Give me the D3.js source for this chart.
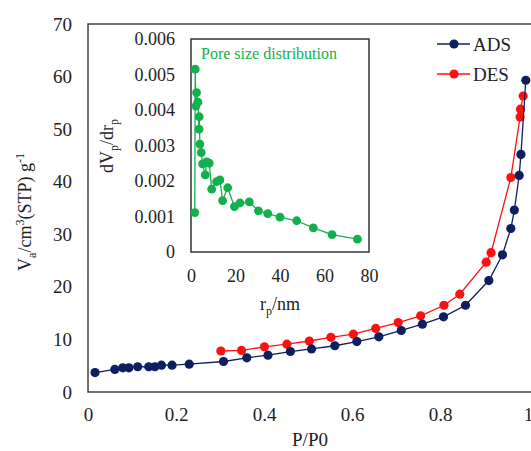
<!DOCTYPE html>
<html>
<head>
  <meta charset="utf-8">
  <script src="https://cdnjs.cloudflare.com/ajax/libs/d3/7.8.5/d3.min.js"></script>
  <title>Isotherm</title>
  <style>
    body { margin: 0; background: #fff; }
  </style>
</head>
<body>
<script>
// adsorption branch (P/P0, volume)
const adsX = [0.016,0.061,0.079,0.093,0.113,0.138,0.152,0.167,0.191,0.230,0.308,0.361,0.409,0.460,0.508,0.561,0.611,0.661,0.712,0.760,0.808,0.858,0.911,0.942,0.961,0.969,0.980,0.984,0.995];
const adsY = [3.7,4.3,4.6,4.6,4.8,4.8,4.8,5.1,5.1,5.3,5.8,6.5,7.0,7.7,8.2,8.8,9.6,10.5,11.7,12.9,14.3,16.5,21.2,26.1,31.1,34.6,41.2,45.2,59.3];
// desorption branch
const desX = [0.302,0.349,0.401,0.452,0.503,0.552,0.603,0.654,0.705,0.756,0.809,0.845,0.905,0.916,0.961,0.982,0.983,0.989];
const desY = [7.8,7.9,8.6,9.1,9.7,10.4,11.0,12.1,13.2,14.5,16.5,18.6,24.7,26.5,40.8,52.3,53.8,56.3];
// pore size distribution (r_p nm, dVp/drp)
const poreR = [1.7,1.9,2.2,2.5,3.1,3.6,3.7,4.0,4.6,5.2,6.4,7.0,8.2,9.3,11.5,13.0,14.2,16.5,19.5,22.0,26.2,30.3,34.5,40.0,47.5,55.0,63.4,74.8];
const poreV = [0.00111,0.00515,0.00411,0.00449,0.00422,0.00346,0.00381,0.00304,0.00280,0.00248,0.00217,0.00254,0.00250,0.00177,0.00198,0.00203,0.00145,0.00181,0.00128,0.00138,0.00141,0.00116,0.00108,0.00098,0.00088,0.00068,0.00049,0.00036];

const mainXTicks = [0, 0.2, 0.4, 0.6, 0.8, 1];
const mainYTicks = [0, 10, 20, 30, 40, 50, 60, 70];
const insetXTicks = [0, 20, 40, 60, 80];
const insetYTicks = [0, 0.001, 0.002, 0.003, 0.004, 0.005, 0.006];

const navy = "#0d1f5e", red = "#ff1010", green = "#12b04c";
const serif = "'Liberation Serif', 'DejaVu Serif', serif";

const svg = d3.select("body").append("svg")
    .attr("width", 531)
    .attr("height", 451);

// main plot
const x = d3.scaleLinear().domain([0, 1]).range([88, 528]);
const y = d3.scaleLinear().domain([0, 70]).range([392, 24]);

svg.append("path")
    .attr("d", "M560,24H88V392H560")
    .attr("fill", "none")
    .attr("stroke", "#444")
    .attr("stroke-width", 1.5);

const xAxis = svg.append("g")
    .attr("transform", "translate(0,392)")
    .call(d3.axisBottom(x).tickValues(mainXTicks).tickSize(0).tickPadding(16).tickFormat(d3.format("")));
const yAxis = svg.append("g")
    .attr("transform", "translate(88,0)")
    .call(d3.axisLeft(y).tickValues(mainYTicks).tickSize(0).tickPadding(16));
[xAxis, yAxis].forEach(g => {
  g.select(".domain").remove();
  g.selectAll("text").style("font-size", "19px");
});

const line = d3.line().x(d => x(d[0])).y(d => y(d[1]));
const ads = adsX.map((v, i) => [v, adsY[i]]);
const des = desX.map((v, i) => [v, desY[i]]);

[[des, red], [ads, navy]].forEach(([pts, c]) => {
  svg.append("path").datum(pts)
      .attr("d", line)
      .attr("fill", "none")
      .attr("stroke", c)
      .attr("stroke-width", 1.3);
  svg.append("g").selectAll("circle")
      .data(pts).enter().append("circle")
      .attr("cx", d => x(d[0]))
      .attr("cy", d => y(d[1]))
      .attr("r", 4.6)
      .attr("fill", c);
});

// axis titles
const yl = svg.append("text")
    .attr("transform", "translate(31,212) rotate(-90)")
    .attr("text-anchor", "middle")
    .style("font-size", "18px");
yl.append("tspan").text("V");
yl.append("tspan").attr("dy", 5).style("font-size", "12px").text("a");
yl.append("tspan").attr("dy", -5).text("/cm");
yl.append("tspan").attr("dy", -7).style("font-size", "12px").text("3");
yl.append("tspan").attr("dy", 7).text("(STP) g");
yl.append("tspan").attr("dy", -7).style("font-size", "12px").text("-1");

svg.append("text")
    .attr("x", 310).attr("y", 446)
    .attr("text-anchor", "middle")
    .style("font-size", "19px")
    .text("P/P0");

// legend
[["ADS", navy, 44], ["DES", red, 74]].forEach(([name, c, ly]) => {
  svg.append("line").attr("x1", 437).attr("x2", 470).attr("y1", ly).attr("y2", ly)
      .attr("stroke", c).attr("stroke-width", 1.3);
  svg.append("circle").attr("cx", 454).attr("cy", ly).attr("r", 4.6).attr("fill", c);
  svg.append("text").attr("x", 473).attr("y", ly + 7)
      .style("font-size", "19px").text(name);
});

// inset: pore size distribution
const ix = d3.scaleLinear().domain([0, 80]).range([191, 369]);
const iy = d3.scaleLinear().domain([0, 0.006]).range([252, 39]);

svg.append("rect")
    .attr("x", 191).attr("y", 39)
    .attr("width", 178).attr("height", 213)
    .attr("fill", "#fff")
    .attr("stroke", "#333")
    .attr("stroke-width", 1.5);

const ixAxis = svg.append("g")
    .attr("transform", "translate(0,252)")
    .call(d3.axisBottom(ix).tickValues(insetXTicks).tickSize(0).tickPadding(17));
const iyAxis = svg.append("g")
    .attr("transform", "translate(191,0)")
    .call(d3.axisLeft(iy).tickValues(insetYTicks).tickSize(0).tickPadding(16)
      .tickFormat(d => d === 0 ? "0" : d3.format(".3f")(d)));
[ixAxis, iyAxis].forEach(g => {
  g.select(".domain").remove();
  g.selectAll("text").style("font-size", "18px");
});

const pore = poreR.map((v, i) => [v, poreV[i]]);
svg.append("path").datum(pore)
    .attr("d", d3.line().x(d => ix(d[0])).y(d => iy(d[1])))
    .attr("fill", "none")
    .attr("stroke", green)
    .attr("stroke-width", 1.3);
svg.append("g").selectAll("circle")
    .data(pore).enter().append("circle")
    .attr("cx", d => ix(d[0]))
    .attr("cy", d => iy(d[1]))
    .attr("r", 4.4)
    .attr("fill", green);

svg.append("text")
    .attr("x", 201).attr("y", 59)
    .style("font-size", "16px")
    .attr("class", "green")
    .text("Pore size distribution");

const il = svg.append("text")
    .attr("transform", "translate(113,146) rotate(-90)")
    .attr("text-anchor", "middle")
    .style("font-size", "18px");
il.append("tspan").text("dV");
il.append("tspan").attr("dy", 5).style("font-size", "12px").text("p");
il.append("tspan").attr("dy", -5).text("/dr");
il.append("tspan").attr("dy", 5).style("font-size", "12px").text("p");

const xl = svg.append("text")
    .attr("x", 280).attr("y", 310)
    .attr("text-anchor", "middle")
    .style("font-size", "18px");
xl.append("tspan").text("r");
xl.append("tspan").attr("dy", 5).style("font-size", "12px").text("p");
xl.append("tspan").attr("dy", -5).text("/nm");

// font and colour for every text, set inline
svg.selectAll("text")
    .style("font-family", serif)
    .style("fill", function() { return this.classList.contains("green") ? green : "#222"; });
</script>
</body>
</html>
